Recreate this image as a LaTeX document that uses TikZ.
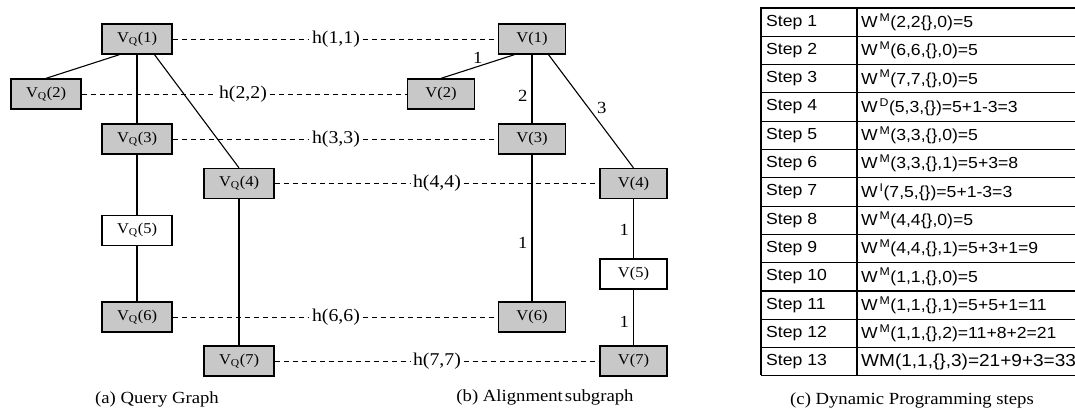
\documentclass[tikz,border=0pt]{standalone}
\usepackage{fontspec}
\setmainfont{Liberation Serif}[FakeStretch=1.1]
\newfontfamily\tabfont{Liberation Sans}[FakeStretch=1.1]
\definecolor{boxgray}{RGB}{200,200,200}
\newcommand\VQ[1]{V\textsubscript{Q}(#1)}
\newcommand\Wsup[1]{W\textsuperscript{\,#1}}
\begin{document}
\begin{tikzpicture}[x=1pt,y=-1pt,
  gbox/.style={draw=black, line width=1.3pt, fill=boxgray, minimum width=70pt, minimum height=30pt, inner sep=0pt, font=\fontsize{15}{17}\selectfont},
  vbox/.style={gbox, minimum width=67pt},
  wbox/.style={fill=white},
  edge/.style={line width=1.1pt},
  hline/.style={line width=1pt, dash pattern=on 5pt off 4pt},
  hlab/.style={inner sep=2.5pt, font=\fontsize{18}{20}\selectfont},
  elab/.style={inner sep=1pt, font=\fontsize{17}{19}\selectfont},
  capt/.style={inner sep=0pt, font=\fontsize{17}{20}\selectfont},
  tabline/.style={line width=1.1pt},
  tabtxt/.style={anchor=west, inner sep=0pt, font=\tabfont\fontsize{16}{18}\selectfont}]
\useasboundingbox (0,0) rectangle (1075,408);

% query graph
\node[gbox] (vq1) at (137,39) {\VQ{1}};
\node[gbox] (vq2) at (46,94) {\VQ{2}};
\node[gbox] (vq3) at (137,139) {\VQ{3}};
\node[gbox] (vq4) at (239,183.5) {\VQ{4}};
\node[gbox,wbox] (vq5) at (137,230.5) {\VQ{5}};
\node[gbox] (vq6) at (137,317) {\VQ{6}};
\node[gbox] (vq7) at (239,361) {\VQ{7}};

\draw[edge] ([xshift=-17.5pt]vq1.south) -- (vq2.north);
\draw[edge] (vq1.south) -- (vq3.north);
\draw[edge] ([xshift=17.5pt]vq1.south) -- (vq4.north);
\draw[edge] (vq3.south) -- (vq5.north);
\draw[edge] (vq5.south) -- (vq6.north);
\draw[edge] (vq4.south) -- (vq7.north);

% alignment subgraph
\node[vbox] (v1) at (532,39) {V(1)};
\node[vbox] (v2) at (441,94) {V(2)};
\node[vbox] (v3) at (532,139) {V(3)};
\node[vbox] (v4) at (633.5,183.5) {V(4)};
\node[vbox,wbox] (v5) at (633.5,274) {V(5)};
\node[vbox] (v6) at (532,317) {V(6)};
\node[vbox] (v7) at (633.5,361) {V(7)};

\draw[edge] ([xshift=-17.5pt]v1.south) -- node[elab, above=1pt] (l12) {1} (v2.north);
\draw[edge] (v1.south) -- node[elab, pos=0.6, left=3pt] (l13) {2} (v3.north);
\draw[edge] ([xshift=16.5pt]v1.south) -- node[elab, pos=0.47, right=7pt] (l14) {3} (v4.north);
\draw[edge] (v3.south) -- node[elab, pos=0.6, left=3pt] (l36) {1} (v6.north);
\draw[edge] (v4.south) -- node[elab, pos=0.52, left=3pt] (l45) {1} (v5.north);
\draw[edge] (v5.south) -- node[elab, pos=0.58, left=3pt] (l57) {1} (v7.north);

% correspondence lines
\node[hlab] (h11) at (336,39) {h(1,1)};
\node[hlab] (h22) at (243,94) {h(2,2)};
\node[hlab] (h33) at (336,139) {h(3,3)};
\node[hlab] (h44) at (437,183.5) {h(4,4)};
\node[hlab] (h66) at (336,317) {h(6,6)};
\node[hlab] (h77) at (437,361) {h(7,7)};
\foreach \q/\h/\v in {vq1/h11/v1, vq2/h22/v2, vq3/h33/v3, vq4/h44/v4, vq6/h66/v6, vq7/h77/v7}{
  \draw[hline] (\q.east) -- (\h.west);
  \draw[hline] (\h.east) -- (\v.west);
}

% captions
\node[capt] (capa) at (157,399) {(a) Query Graph};
\node[capt] (capb) at (545,397) {(b) Alignment\hspace{0.12em}subgraph};
\node[capt] (capc) at (912,400) {(c) Dynamic Programming steps};

% table
\foreach \i in {0,...,13}{
  \draw[tabline] (761,{8+\i*28.3}) -- (1075,{8+\i*28.3});
}
\draw[tabline] (761,7.45) -- (761,375.45);
\draw[tabline] (857,7.45) -- (857,375.45);
\foreach \i in {1,...,13}{
  \node[tabtxt] (s\i) at (766,{8+(\i-0.5)*28.3}) {Step \i};
}
\node[tabtxt] (f1) at (861,{8+0.5*28.3}) {\Wsup{M}(2,2\{\},0)=5};
\node[tabtxt] (f2) at (861,{8+1.5*28.3}) {\Wsup{M}(6,6,\{\},0)=5};
\node[tabtxt] (f3) at (861,{8+2.5*28.3}) {\Wsup{M}(7,7,\{\},0)=5};
\node[tabtxt] (f4) at (861,{8+3.5*28.3}) {\Wsup{D}(5,3,\{\})=5+1-3=3};
\node[tabtxt] (f5) at (861,{8+4.5*28.3}) {\Wsup{M}(3,3,\{\},0)=5};
\node[tabtxt] (f6) at (861,{8+5.5*28.3}) {\Wsup{M}(3,3,\{\},1)=5+3=8};
\node[tabtxt] (f7) at (861,{8+6.5*28.3}) {\Wsup{I}(7,5,\{\})=5+1-3=3};
\node[tabtxt] (f8) at (861,{8+7.5*28.3}) {\Wsup{M}(4,4\{\},0)=5};
\node[tabtxt] (f9) at (861,{8+8.5*28.3}) {\Wsup{M}(4,4,\{\},1)=5+3+1=9};
\node[tabtxt] (f10) at (861,{8+9.5*28.3}) {\Wsup{M}(1,1,\{\},0)=5};
\node[tabtxt] (f11) at (861,{8+10.5*28.3}) {\Wsup{M}(1,1,\{\},1)=5+5+1=11};
\node[tabtxt] (f12) at (861,{8+11.5*28.3}) {\Wsup{M}(1,1,\{\},2)=11+8+2=21};
\node[tabtxt, font=\tabfont\fontsize{17.3}{19}\selectfont] (f13) at (861,{8+12.5*28.3}) {WM(1,1,\{\},3)=21+9+3=33};
\end{tikzpicture}
\end{document}
